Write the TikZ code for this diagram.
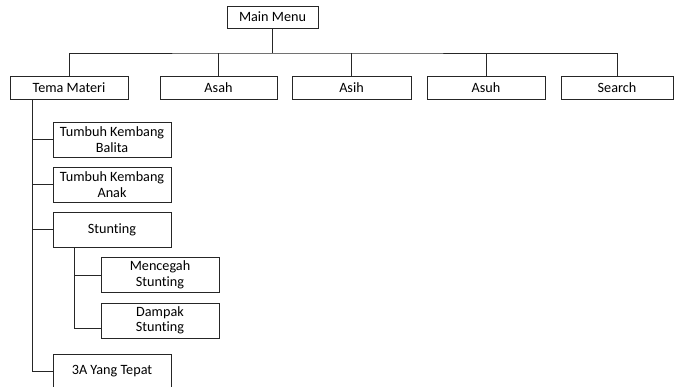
\documentclass[tikz,border=0pt]{standalone}
\usepackage{fontspec}
\setmainfont[RawFeature={-liga;-clig;-dlig}]{Carlito}
\begin{document}
\begin{tikzpicture}[x=1pt,y=-1pt,
  box/.style={draw=black!85,line width=0.8pt,inner sep=0pt,align=center,
    font=\fontsize{14.2}{15.5}\selectfont},
  row/.style={box,minimum height=23pt},
  sub/.style={box,minimum width=118pt,minimum height=35pt},
  conn/.style={draw=black!85,line width=0.8pt}]
\useasboundingbox (0,0) rectangle (675,387);
\begin{scope}
\clip (0,0) rectangle (675,387);
\node[box,minimum width=91pt,minimum height=22pt] (main) at (272.5,17) {Main Menu};
\node[row,minimum width=118pt] (tema) at (69,87.5) {Tema Materi};
\node[row,minimum width=117pt] (asah) at (218.5,87.5) {Asah};
\node[row,minimum width=119pt] (asih) at (351.5,87.5) {Asih};
\node[row,minimum width=118pt] (asuh) at (486,87.5) {Asuh};
\node[row,minimum width=112pt] (search) at (617,87.5) {Search};
\node[sub] (tkb) at (112,139.5) {Tumbuh Kembang\\Balita};
\node[sub] (tka) at (112,184.5) {Tumbuh Kembang\\Anak};
\node[sub] (stunting) at (112,229.5) {Stunting};
\node[sub] (mencegah) at (160,275) {Mencegah\\Stunting};
\node[sub] (dampak) at (160,320.5) {Dampak\\Stunting};
\node[sub] (a3) at (112,371.5) {3A Yang Tepat};
\coordinate (bus) at (272.5,53);
\draw[conn] (main.south) -- (bus);
\draw[conn] (tema.north) |- (bus) -| (search.north);
\draw[conn] (asah.north) -- (asah.north |- bus);
\draw[conn] (asih.north) -- (asih.north |- bus);
\draw[conn] (asuh.north) -- (asuh.north |- bus);
\coordinate (tspine) at ([xshift=-37pt]tema.south);
\draw[conn] (tspine) |- (a3.west);
\draw[conn] (tspine |- tkb.west) -- (tkb.west);
\draw[conn] (tspine |- tka.west) -- (tka.west);
\draw[conn] (tspine |- stunting.west) -- (stunting.west);
\coordinate (sspine) at ([xshift=-38pt]stunting.south);
\draw[conn] (sspine) |- ([yshift=-7.5pt]dampak.west);
\draw[conn] (sspine |- mencegah.west) -- (mencegah.west);
\end{scope}
\end{tikzpicture}
\end{document}
